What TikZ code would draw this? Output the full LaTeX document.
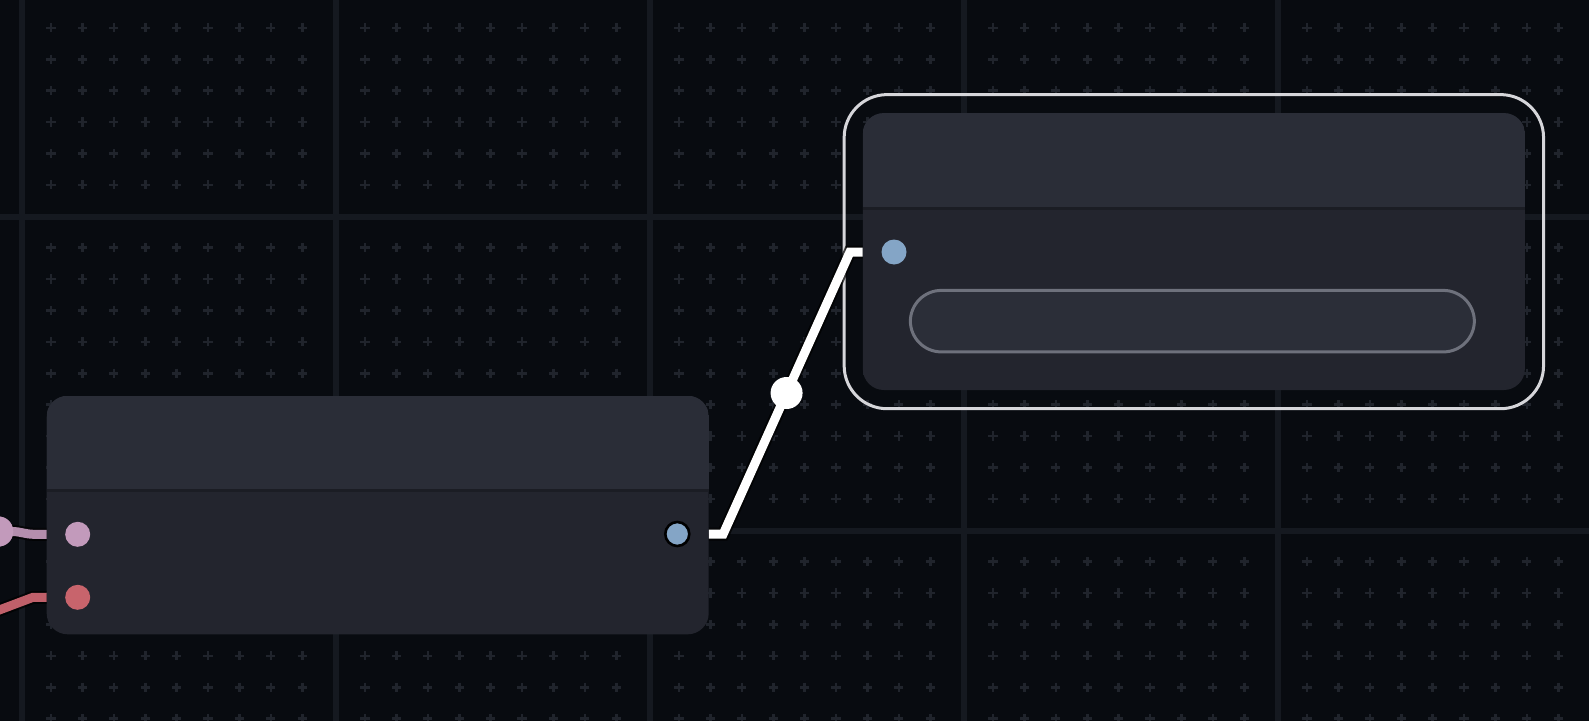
\documentclass[tikz,border=0pt]{standalone}
\usetikzlibrary{calc}
\definecolor{bg}{HTML}{080B10}
\definecolor{gridln}{HTML}{151920}
\definecolor{plusc}{HTML}{20242C}
\definecolor{hdr}{HTML}{2A2D37}
\definecolor{bodyc}{HTML}{23252E}
\definecolor{divc}{HTML}{1B1D24}
\definecolor{sockblue}{HTML}{84A5C6}
\definecolor{sockpink}{HTML}{C29ABB}
\definecolor{wirepink}{HTML}{B48EAD}
\definecolor{sockred}{HTML}{C8646C}
\definecolor{wirered}{HTML}{C0606A}
\definecolor{selc}{HTML}{D6D6DA}
\definecolor{pillst}{HTML}{6E717C}
\definecolor{pillfill}{HTML}{2B2E38}
\begin{document}
\begin{tikzpicture}[x=1pt,y=-1pt,
  panel/.style={rectangle, rounded corners=21pt, fill=bodyc, inner sep=0pt, minimum width=662pt},
  sock/.style={circle, inner sep=0pt, minimum size=25pt},
  wire/.style={line width=9pt, preaction={draw=black, line width=13pt, opacity=0.7}},
  rerouted/.style={circle, inner sep=0pt, minimum size=32pt, fill=white},
  pill/.style={rectangle, rounded corners=31pt, draw=pillst, line width=3pt, fill=pillfill, inner sep=0pt, minimum width=564pt, minimum height=61.5pt}
]
\useasboundingbox (0,0) rectangle (1589,720);
\clip (0,0) rectangle (1589,720);
\fill[bg] (-5,-5) rectangle (1594,725);
% dotted plus pattern (skipping positions under the major grid lines)
\foreach \i in {0,...,50} {
  \pgfmathtruncatemacro\im{mod(\i,10)}
  \ifnum\im=0 \else
  \foreach \j in {0,...,22} {
    \pgfmathtruncatemacro\jm{mod(\j,10)}
    \ifnum\jm=6 \else
    \draw[plusc, line width=2.6pt] ({19.6+31.4*\i-4.6}, {27.8+31.4*\j}) -- ++(9.2,0)
      ({19.6+31.4*\i}, {27.8+31.4*\j-4.6}) -- ++(0,9.2);
    \fi
  }
  \fi
}
% major grid lines
\foreach \x in {22,336,650,964,1278} \draw[gridln, line width=6pt] (\x,-5) -- (\x,725);
\foreach \y in {217,531} \draw[gridln, line width=6pt] (-5,\y) -- (1594,\y);

% right node (selected)
\node[panel, minimum height=276.7pt] (R) at (1193.85,251.65) {};
\draw[selc, line width=3pt, rounded corners=43pt] ($(R.north west)+(-18.5,-18.5)$) rectangle ($(R.south east)+(18.5,18.5)$);
\begin{scope}
  \clip[rounded corners=21pt] (R.north west) rectangle (R.south east);
  \fill[hdr] (R.north west) rectangle ($(R.north east)+(0,95)$);
\end{scope}
\draw[divc, line width=3pt] ($(R.north west)+(0,95)$) -- ($(R.north east)+(0,95)$);
\node[pill] (F) at (1192.35,321.15) {};

% left node
\node[panel, minimum height=238.3pt] (L) at (377.7,515.15) {};
\begin{scope}
  \clip[rounded corners=21pt] (L.north west) rectangle (L.south east);
  \fill[hdr] (L.north west) rectangle ($(L.north east)+(0,95)$);
\end{scope}
\draw[divc, line width=3pt] ($(L.north west)+(0,95)$) -- ($(L.north east)+(0,95)$);

% sockets
\node[sock, fill=sockpink] (Lp) at (77.7,534.3) {};
\node[sock, fill=sockred] (Lr) at (77.7,597.3) {};
\node[sock, fill=sockblue, draw=black, line width=2.6pt, minimum size=24pt] (Lo) at (677.3,534) {};
\node[sock, fill=sockblue] (Ri) at (894,252) {};

% pink wire with reroute dot at the left edge
\node[circle, inner sep=0pt, minimum size=30pt, fill=sockpink] (prr) at (-1.7,531.5) {};
\draw[wire, wirepink] (prr.center) -- (12,531.5) to[out=0,in=180] (34,534.3) -- (L.west |- Lp);
\node[circle, inner sep=0pt, minimum size=30pt, fill=sockpink] at (prr) {};

% red wire
\coordinate (redfree) at (-10,613.5);
\coordinate (redbend) at (33,597.3);
\draw[wire, wirered] (redfree) -- (redbend) -- (L.west |- Lr);

% white wire from left output to right input
\coordinate (w0) at (L.east |- Lo);
\coordinate (w1) at ($(w0)+(14.3,0)$);
\coordinate (w3) at (R.west |- Ri);
\coordinate (w2) at ($(w3)+(-12.7,0)$);
\draw[wire, white] (w0) -- (w1) -- (w2) -- (w3);
\node[rerouted] (rr) at ($(w1)!0.5!(w2)$) {};
\end{tikzpicture}
\end{document}
